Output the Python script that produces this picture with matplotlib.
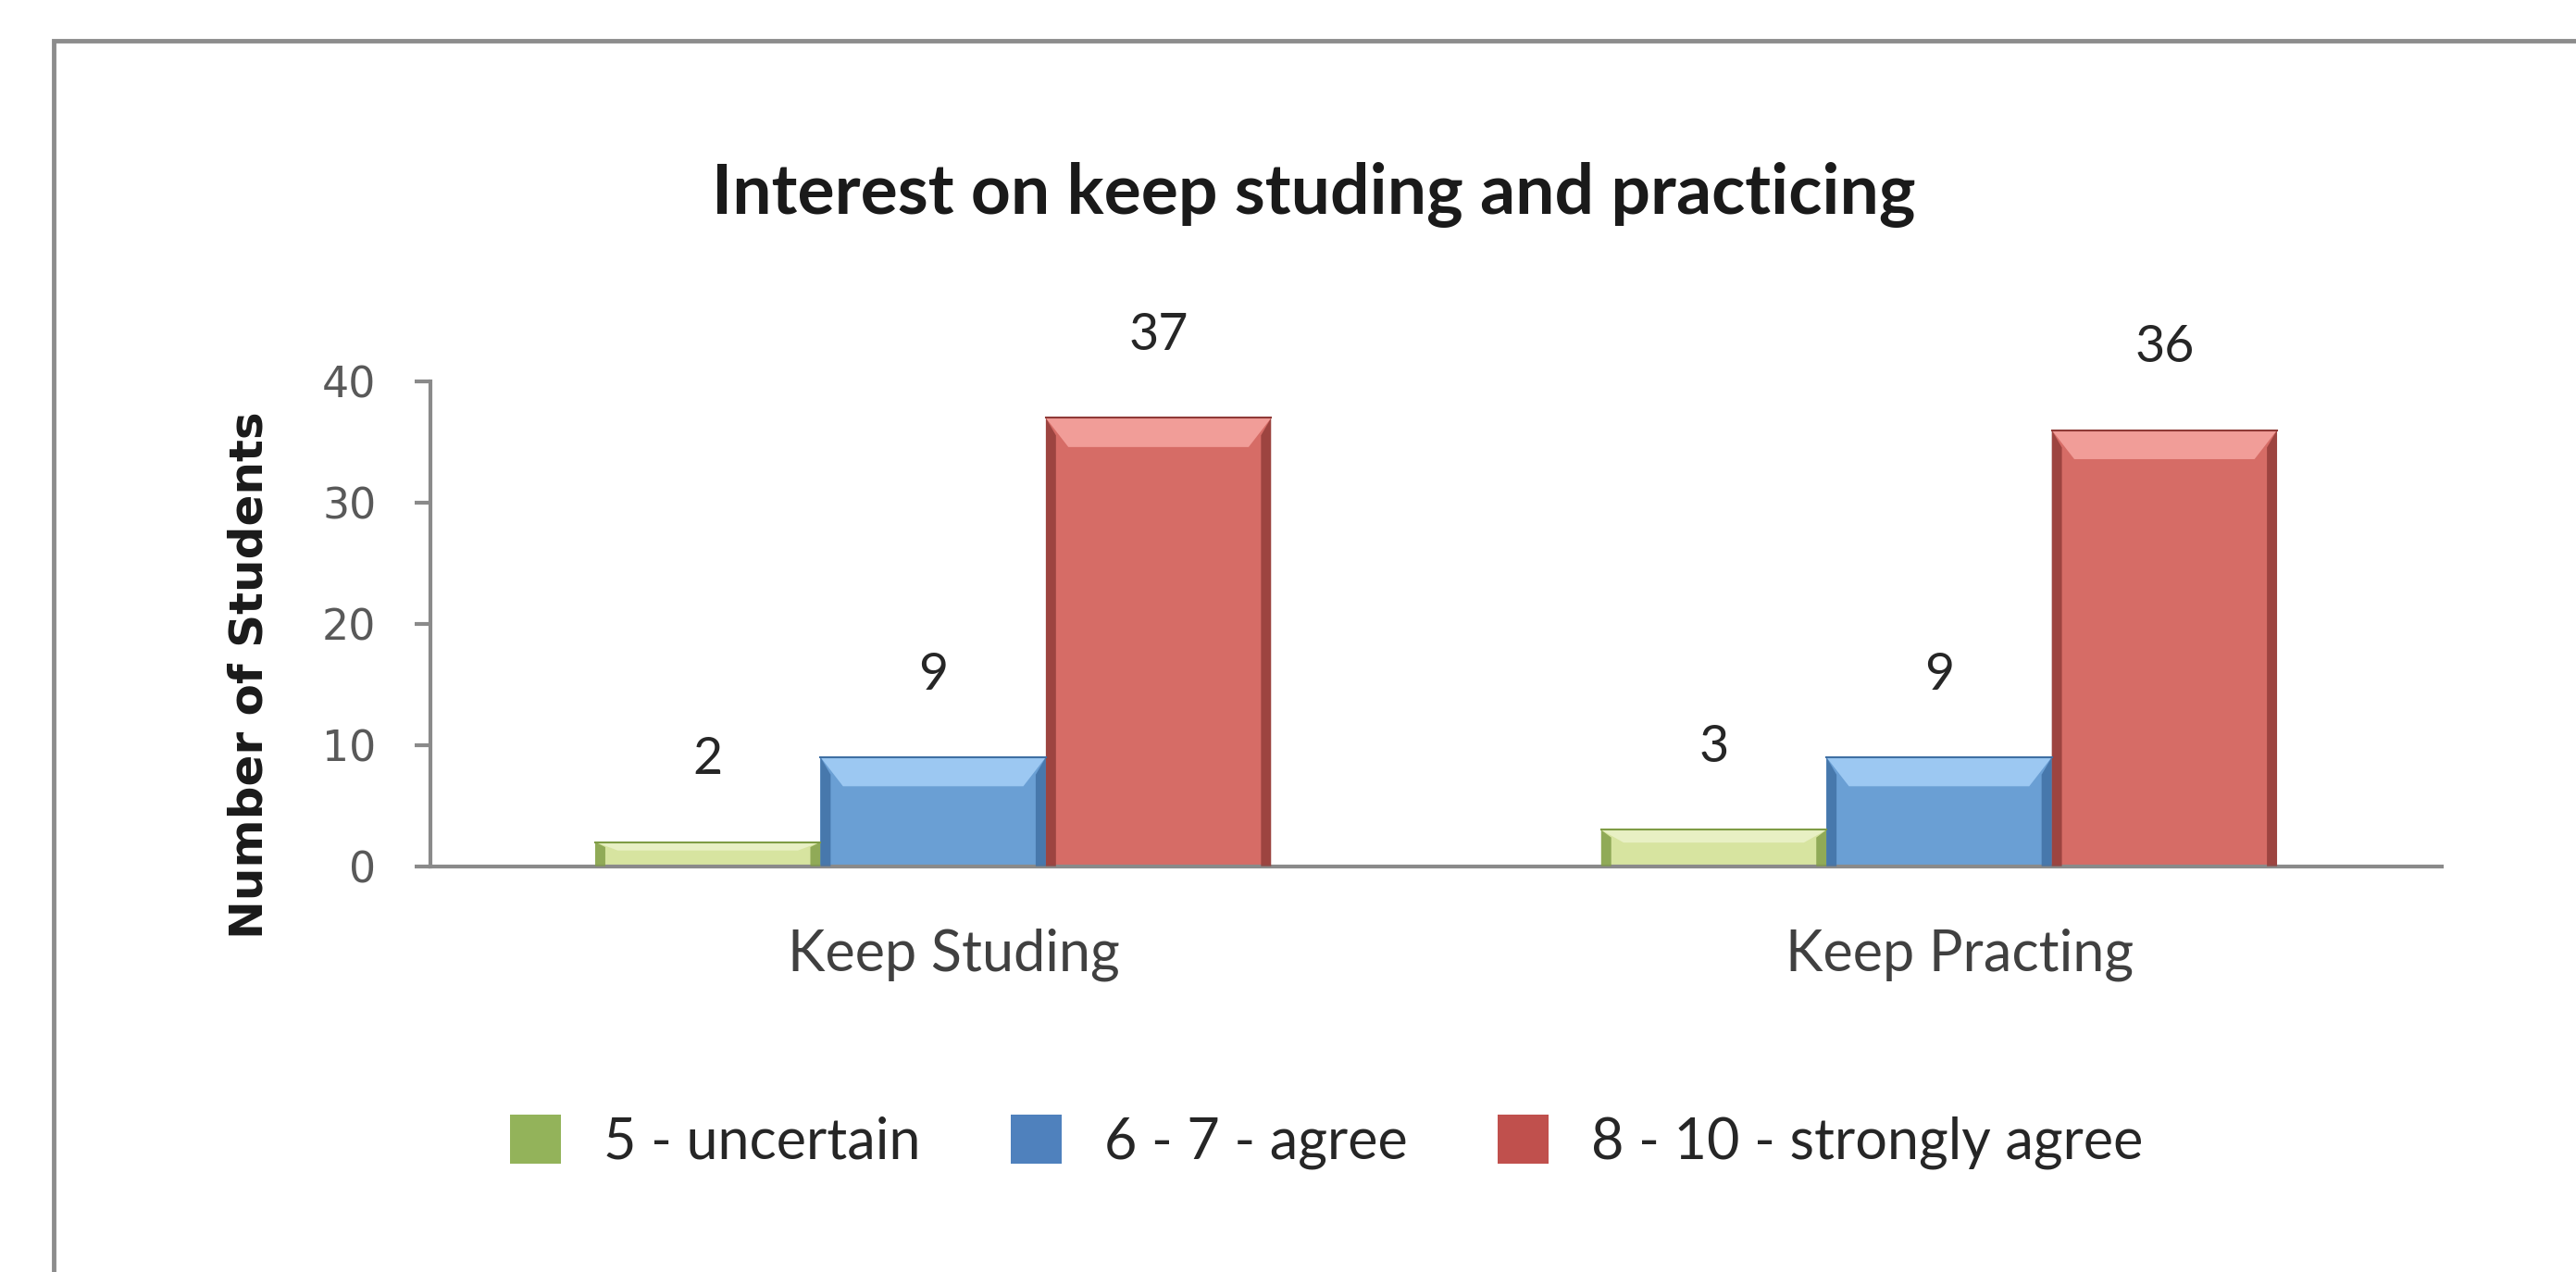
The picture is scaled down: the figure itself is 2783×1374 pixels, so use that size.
import matplotlib
matplotlib.use("Agg")
import matplotlib.pyplot as plt
import matplotlib.transforms as mtransforms
import numpy as np
from matplotlib.patches import Polygon, Rectangle, Patch

categories = ["Keep Studing", "Keep Practing"]
series_names = ["5 - uncertain", "6 - 7 - agree", "8 - 10 - strongly agree"]
uncertain = [2, 3]
agree = [9, 9]
strongly_agree = [37, 36]

# face, top highlight, dark side
face_colors = ["#d7e4a0", "#6a9fd4", "#d66c66"]
light_colors = ["#e8f0c4", "#9cc8f2", "#f19d98"]
dark_colors = ["#7f9c45", "#3f6fa3", "#8f3a37"]
legend_colors = ["#93b35a", "#4f81bd", "#c0504d"]

plt.rcParams["font.family"] = ["Lato", "DejaVu Sans"]

fig = plt.figure(figsize=(27.83, 13.74), dpi=100)
ax = fig.add_axes([0.167, 0.319, 0.781, 0.381])

x = np.arange(len(categories))
width = 0.224
series = [uncertain, agree, strongly_agree]


def bevel_bar(ax, xc, h, w, face, light, dark):
    x0, x1 = xc - w / 2, xc + w / 2
    bx = w * 0.1
    by = min(2.4, h * 0.35)
    ax.bar(xc, h, w, color=face, edgecolor="none", zorder=2)
    # top highlight
    ax.add_patch(Polygon([(x0, h), (x1, h), (x1 - bx, h - by), (x0 + bx, h - by)],
                         closed=True, facecolor=light, edgecolor="none", zorder=3))
    # dark sides
    ax.add_patch(Polygon([(x0, 0), (x0 + bx * 0.45, 0), (x0 + bx * 0.45, h - by * 0.6), (x0, h)],
                         closed=True, facecolor=dark, edgecolor="none", alpha=0.8, zorder=3))
    ax.add_patch(Polygon([(x1, 0), (x1 - bx * 0.45, 0), (x1 - bx * 0.45, h - by * 0.6), (x1, h)],
                         closed=True, facecolor=dark, edgecolor="none", alpha=0.8, zorder=3))
    ax.plot([x0, x1], [h, h], color=dark, lw=1.5, zorder=4)


for i, vals in enumerate(series):
    for j, v in enumerate(vals):
        xc = x[j] + (i - 1) * width
        bevel_bar(ax, xc, v, width, face_colors[i], light_colors[i], dark_colors[i])
        ax.annotate(str(v), (xc, v), xytext=(0, 64), textcoords="offset points",
                    ha="center", va="center", fontsize=40, color="#262626")

ax.set_xlim(-0.5, 1.5)
ax.set_ylim(0, 40)
ax.set_yticks(np.arange(0, 41, 10))
ax.set_xticks(x)
ax.set_xticklabels(categories)

for s in ["top", "right"]:
    ax.spines[s].set_visible(False)
for s in ["left", "bottom"]:
    ax.spines[s].set_color("#8a8a8a")
    ax.spines[s].set_linewidth(3)

ax.tick_params(axis="y", direction="out", length=12, width=3, color="#8a8a8a",
               labelsize=33, labelcolor="#595959", pad=30)
for lbl in ax.get_yticklabels():
    lbl.set_family("DejaVu Sans")
ax.tick_params(axis="x", length=0, labelsize=44, labelcolor="#404040", pad=48)
# category labels sit a little right of the group centre in the original
shift = mtransforms.ScaledTranslation(0.22, 0, fig.dpi_scale_trans)
for lbl in ax.get_xticklabels():
    lbl.set_transform(lbl.get_transform() + shift)

fig.text(0.51, 0.847, "Interest on keep studing and practicing", ha="center", va="center",
         fontsize=54, fontweight="bold", color="#1a1a1a")
fig.text(0.097, 0.469, "Number of Students", rotation=90, ha="center", va="center",
         fontsize=36, fontweight="bold", family=["DejaVu Sans"], color="#1a1a1a")

handles = [Patch(facecolor=c, edgecolor="none") for c in legend_colors]
fig.legend(handles, series_names, loc="center", bbox_to_anchor=(0.515, 0.102), ncol=3,
           frameon=False, fontsize=44, handlelength=0.9, handleheight=0.95,
           columnspacing=1.6, handletextpad=0.75, labelcolor="#262626")

# outer chart border, cut off at right and bottom
fig.patches.append(Rectangle((0.021, -0.05), 1.2, 1.018, transform=fig.transFigure,
                             fill=False, edgecolor="#8c8c8c", lw=3.5))

fig.savefig("out.png", dpi=100, facecolor="white")
